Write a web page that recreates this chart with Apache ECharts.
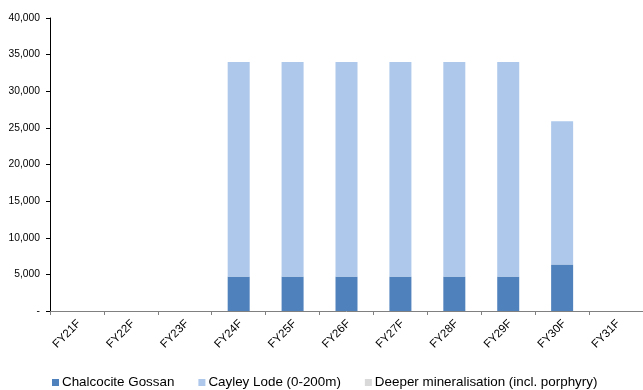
<!DOCTYPE html>
<html>
<head>
<meta charset="utf-8">
<script src="https://cdn.jsdelivr.net/npm/echarts@6/dist/echarts.min.js"></script>
<style>html,body{margin:0;padding:0;background:#fff;}#c{width:643px;height:390px;}</style>
</head>
<body>
<div id="c"></div>
<script>
const categories = ['FY21F','FY22F','FY23F','FY24F','FY25F','FY26F','FY27F','FY28F','FY29F','FY30F','FY31F'];
const chalcocite = [0,0,0,4700,4700,4700,4700,4700,4700,6350,0];
const cayley = [0,0,0,29300,29300,29300,29300,29300,29300,19550,0];
const deeper = [0,0,0,0,0,0,0,0,0,0,0];
const yTicks = [0,5000,10000,15000,20000,25000,30000,35000,40000];

const chart = echarts.init(document.getElementById('c'));
const font = 'Arial, "Liberation Sans", sans-serif';
chart.setOption({
  animation: false,
  grid: {left: 50, top: 18, width: 600, height: 293},
  legend: {
    left: 47, top: 371, itemWidth: 7, itemHeight: 7, itemGap: 24,
    icon: 'rect',
    textStyle: {fontFamily: font, fontSize: 13.4, color: '#000', padding: [0,0,0,-2]},
    data: ['Chalcocite Gossan','Cayley Lode (0-200m)','Deeper mineralisation (incl. porphyry)']
  },
  xAxis: {
    type: 'category', data: categories,
    axisLine: {lineStyle: {color: '#808080', width: 1}},
    axisTick: {show: true, length: 4, lineStyle: {color: '#808080'}},
    axisLabel: {rotate: 45, fontFamily: font, fontSize: 11.5, color: '#000', margin: 13, padding: [0,-3,0,0]}
  },
  yAxis: {
    type: 'value', min: 0, max: 40000, interval: 5000,
    splitLine: {show: false},
    axisLine: {show: true, lineStyle: {color: '#000', width: 1}},
    axisTick: {show: true, length: 4, lineStyle: {color: '#000'}},
    axisLabel: {
      fontFamily: font, fontSize: 10.3, color: '#000', margin: 10,
      formatter: v => v === 0 ? '-' : v.toLocaleString('en-US')
    }
  },
  series: [
    {name: 'Chalcocite Gossan', type: 'bar', stack: 's', data: chalcocite, barWidth: 22, itemStyle: {color: '#4F81BD'}},
    {name: 'Cayley Lode (0-200m)', type: 'bar', stack: 's', data: cayley, barWidth: 22, itemStyle: {color: '#ADC8EB'}},
    {name: 'Deeper mineralisation (incl. porphyry)', type: 'bar', stack: 's', data: deeper, barWidth: 22, itemStyle: {color: '#D9D9D9'}}
  ]
});
</script>
</body>
</html>
